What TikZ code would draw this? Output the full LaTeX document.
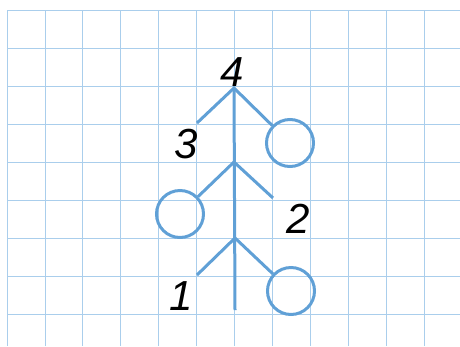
\documentclass[tikz,border=0pt]{standalone}
\usepackage{fontspec}
\setmainfont{Liberation Sans}
\usetikzlibrary{positioning}
\definecolor{GridBlue}{RGB}{170,206,236}
\definecolor{TreeBlue}{RGB}{96,160,214}

\begin{document}
\begin{tikzpicture}[x=1pt, y=-1pt,
    branch/.style={TreeBlue, line width=3pt},
    ring/.style={circle, draw=TreeBlue, line width=3pt, minimum size=47pt, inner sep=0pt},
    digit/.style={font=\fontsize{42}{42}\selectfont\itshape, inner sep=0pt}]
  \useasboundingbox (0,0) rectangle (460,346);

  % squared paper
  \foreach \i in {0,...,12}{
    \pgfmathsetmacro\x{7+37.9*\i}
    \draw[GridBlue, line width=0.7pt] (\x,10) -- (\x,346);
  }
  \foreach \j in {0,...,8}{
    \pgfmathsetmacro\y{10+38*\j}
    \draw[GridBlue, line width=0.7pt] (7,\y) -- (460,\y);
  }

  % trunk
  \coordinate (top) at (234,88);
  \coordinate (mid) at (234,162);
  \coordinate (low) at (235,238);
  \coordinate (root) at (235,310);
  \draw[branch] (top) -- (root);

  % circles
  \node[ring] (ringA) at (290,143) {};
  \node[ring] (ringB) at (180,214) {};
  \node[ring] (ringC) at (291,291) {};

  % free ends of the branches
  \coordinate (endA) at (197,123);
  \coordinate (endB) at (273,198);
  \coordinate (endC) at (197,275);

  \draw[branch] (endA) -- (top) -- (ringA);
  \draw[branch] (ringB) -- (mid) -- (endB);
  \draw[branch] (endC) -- (low) -- (ringC);

  % numbers
  \node[digit] (four)  at (232,72)  {4};
  \node[digit] (three) at (186,144) {3};
  \node[digit] (two)   at (298,219) {2};
  \node[digit] (one)   at (181,296) {1};
\end{tikzpicture}
\end{document}
